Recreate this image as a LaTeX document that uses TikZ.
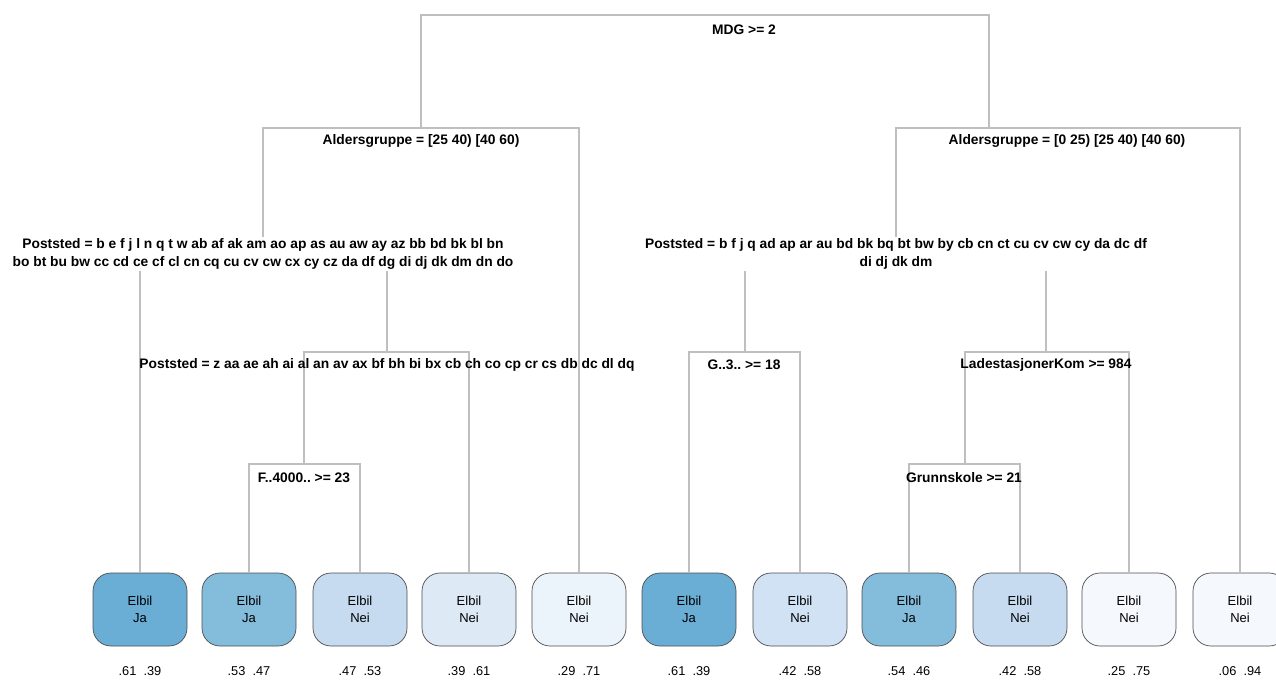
\documentclass[tikz,border=0pt]{standalone}
\usepackage{fontspec}
\setmainfont{Liberation Sans}
\frenchspacing
\colorlet{branch color}{black!25}
\colorlet{leaf border color}{black!70}
\definecolor{leafcolor1}{HTML}{6AAED6}
\definecolor{leafcolor2}{HTML}{84BCDB}
\definecolor{leafcolor3}{HTML}{C6DBEF}
\definecolor{leafcolor4}{HTML}{DDEAF6}
\definecolor{leafcolor5}{HTML}{EBF3FB}
\definecolor{leafcolor6}{HTML}{D0E2F3}
\definecolor{leafcolor7}{HTML}{F5F9FE}
\tikzset{
    x={1pt},
    y={-1pt},
    branch/.style={
        draw=branch color,
        line width={1.8pt},
    },
    split label/.style={
        font={\fontsize{13.8}{18}\selectfont\bfseries},
        align=center,
        inner sep=2pt,
    },
    wide split label/.style={
        split label,
        fill=white,
    },
    leaf/.style={
        draw=leaf border color, fill={#1},
        line width={0.7pt},
        rounded corners={18pt},
        minimum width={94},
        minimum height={73},
        align=center,
        font={\fontsize{13}{17}\selectfont},
        inner sep=0pt,
    },
    leaf/.default={white},
    prob/.style={
        font={\fontsize{12.8}{15}\selectfont},
        inner sep=0pt,
    },
}

\begin{document}
\begin{tikzpicture}
\useasboundingbox (0,0) rectangle (1276,680);
% split points
\coordinate (mdg) at (705,15);
\coordinate (alderA) at (421,128);
\coordinate (alderB) at (989,128);
\coordinate (postA) at (263,250);
\coordinate (postAA) at (387,352);
\coordinate (fire) at (304,464);
\coordinate (postB) at (896,250);
\coordinate (gtre) at (745,352);
\coordinate (lade) at (1046,352);
\coordinate (grunn) at (965,464);
% leaves
\node[leaf={leafcolor1}] (leaf1) at (140,609.5) {Elbil\\Ja};
\node[leaf={leafcolor2}] (leaf2) at (249,609.5) {Elbil\\Ja};
\node[leaf={leafcolor3}] (leaf3) at (360,609.5) {Elbil\\Nei};
\node[leaf={leafcolor4}] (leaf4) at (469,609.5) {Elbil\\Nei};
\node[leaf={leafcolor5}] (leaf5) at (579,609.5) {Elbil\\Nei};
\node[leaf={leafcolor1}] (leaf6) at (689,609.5) {Elbil\\Ja};
\node[leaf={leafcolor6}] (leaf7) at (800,609.5) {Elbil\\Nei};
\node[leaf={leafcolor2}] (leaf8) at (909,609.5) {Elbil\\Ja};
\node[leaf={leafcolor3}] (leaf9) at (1020,609.5) {Elbil\\Nei};
\node[leaf={leafcolor7}] (leaf10) at (1129,609.5) {Elbil\\Nei};
\node[leaf={leafcolor7}] (leaf11) at (1240,609.5) {Elbil\\Nei};
% branches
\path[branch] (alderA) |- (mdg) -| (alderB);
\path[branch] (postA) |- (alderA) -| (leaf5.north);
\path[branch] (postB) |- (alderB) -| (leaf11.north);
\path[branch] (leaf1.north) |- (postA) -| (postAA);
\path[branch] (fire) |- (postAA) -| (leaf4.north);
\path[branch] (leaf2.north) |- (fire) -| (leaf3.north);
\path[branch] (gtre) |- (postB) -| (lade);
\path[branch] (leaf6.north) |- (gtre) -| (leaf7.north);
\path[branch] (grunn) |- (lade) -| (leaf10.north);
\path[branch] (leaf8.north) |- (grunn) -| (leaf9.north);
% split labels
\node[split label] (mdg label) at (744,30) {MDG >= 2};
\node[split label] (alderA label) at (421,141) {Aldersgruppe = [25 40) [40 60)};
\node[split label] (alderB label) at (1067,141) {Aldersgruppe = [0 25) [25 40) [40 60)};
\node[wide split label] (postA label) at (263,254) {Poststed = b e f j l n q t w ab af ak am ao ap as au aw ay az bb bd bk bl bn\\bo bt bu bw cc cd ce cf cl cn cq cu cv cw cx cy cz da df dg di dj dk dm dn do};
\node[split label] (postAA label) at (387,365) {Poststed = z aa ae ah ai al an av ax bf bh bi bx cb ch co cp cr cs db dc dl dq};
\node[split label] (fire label) at (304,478) {F..4000.. >= 23};
\node[wide split label] (postB label) at (896,254) {Poststed = b f j q ad ap ar au bd bk bq bt bw by cb cn ct cu cv cw cy da dc df\\di dj dk dm};
\node[split label] (gtre label) at (744,365) {G..3.. >= 18};
\node[split label] (lade label) at (1046,365) {LadestasjonerKom >= 984};
\node[split label] (grunn label) at (964,478) {Grunnskole >= 21};
% probabilities
\node[prob] (prob1) at (140,671) {.61\ \ .39};
\node[prob] (prob2) at (249,671) {.53\ \ .47};
\node[prob] (prob3) at (360,671) {.47\ \ .53};
\node[prob] (prob4) at (469,671) {.39\ \ .61};
\node[prob] (prob5) at (579,671) {.29\ \ .71};
\node[prob] (prob6) at (689,671) {.61\ \ .39};
\node[prob] (prob7) at (800,671) {.42\ \ .58};
\node[prob] (prob8) at (909,671) {.54\ \ .46};
\node[prob] (prob9) at (1020,671) {.42\ \ .58};
\node[prob] (prob10) at (1129,671) {.25\ \ .75};
\node[prob] (prob11) at (1240,671) {.06\ \ .94};
\end{tikzpicture}
\end{document}
